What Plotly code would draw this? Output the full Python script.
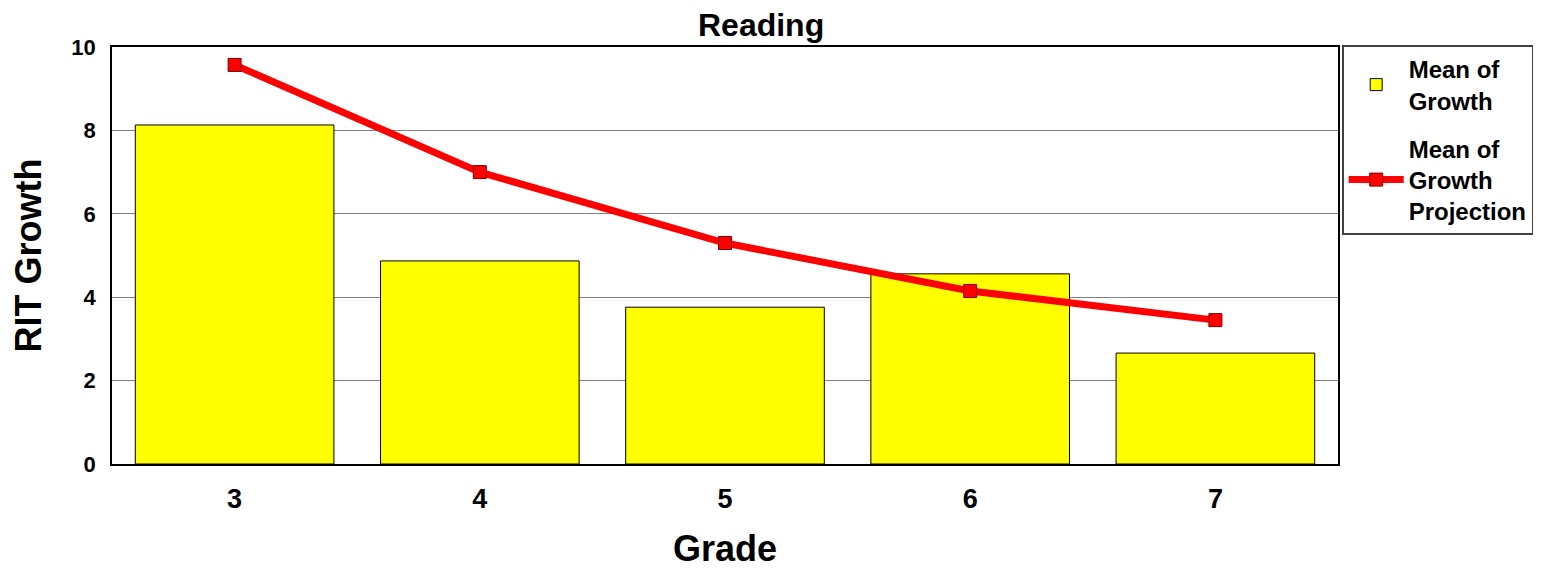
import plotly.graph_objects as go

grades = ["3", "4", "5", "6", "7"]
mean_growth = [8.13, 4.87, 3.76, 4.56, 2.66]
mean_projection = [9.57, 7.0, 5.3, 4.15, 3.45]
y_ticks = [0, 2, 4, 6, 8, 10]

FONT = "Liberation Sans, Arial, sans-serif"

fig = go.Figure()
fig.add_trace(go.Bar(
    x=grades, y=mean_growth, name="Mean of<br>Growth", legendgroup="g1",
    marker=dict(color="#FFFF00", line=dict(color="black", width=1)),
    width=0.81,
))
fig.add_trace(go.Scatter(
    x=grades, y=mean_projection, name="Mean of<br>Growth<br>Projection",
    legendgroup="g2",
    mode="lines+markers",
    line=dict(color="#FF0000", width=7),
    marker=dict(symbol="square", size=13, color="#FF0000",
                line=dict(color="#800000", width=1)),
))

fig.update_layout(
    width=1541, height=569,
    margin=dict(l=104, r=211, t=39, b=113),
    paper_bgcolor="white", plot_bgcolor="white",
    font=dict(family=FONT, color="black"),
    title=dict(text="Reading", x=0.4887, xref="container", xanchor="center",
               y=0.971, yanchor="middle",
               font=dict(size=32, weight="bold")),
    showlegend=True,
    legend=dict(x=1.003, y=1.005, xanchor="left", yanchor="top",
                bordercolor="#404040", borderwidth=2, bgcolor="white",
                font=dict(size=24, family=FONT, weight="bold"),
                traceorder="grouped", tracegroupgap=14, itemwidth=55),
    bargap=0.19,
)
fig.update_xaxes(
    title=dict(text="Grade", font=dict(size=36, weight="bold"), standoff=22),
    tickfont=dict(size=27, weight="bold"), ticklabelstandoff=10,
    showline=True, linecolor="black", linewidth=2, mirror=True,
    ticks="", showgrid=False,
)
fig.update_yaxes(
    title=dict(text="RIT Growth", font=dict(size=36, weight="bold"), standoff=22),
    range=[0, 10], tickvals=y_ticks, tickfont=dict(size=22, weight="bold"),
    ticklabelstandoff=10,
    showline=True, linecolor="black", linewidth=1.5, mirror=True,
    showgrid=True, gridcolor="#808080", gridwidth=1, zeroline=False,
    ticks="",
)

fig.write_html("out.html")
